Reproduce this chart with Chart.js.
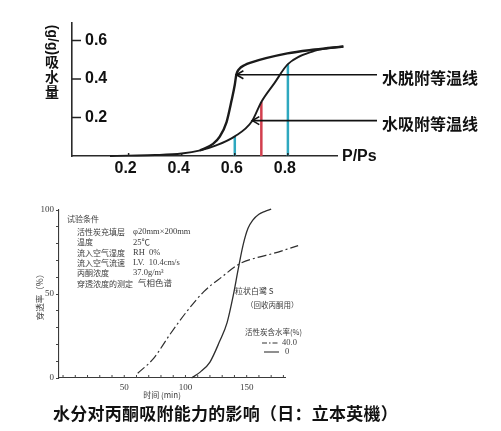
<!DOCTYPE html>
<html>
<head>
<meta charset="utf-8">
<script src="https://cdn.jsdelivr.net/npm/chart.js@4/dist/chart.umd.min.js"></script>
<style>
  html, body { margin: 0; padding: 0; background: #fff; }
  body { width: 501px; height: 431px; position: relative; overflow: hidden; }
  #isotherm { position: absolute; left: 0; top: 0; width: 501px; height: 195px; }
  #breakthrough { position: absolute; left: 0; top: 195px; width: 501px; height: 236px; filter: blur(0.35px); }
  #caption { position: absolute; left: 53px; top: 401px; font: bold 17px "Noto Sans CJK SC", sans-serif;
             color: #111; white-space: nowrap; letter-spacing: 0.25px; line-height: 24px; }
</style>
</head>
<body>
<canvas id="isotherm" width="501" height="195"></canvas>
<canvas id="breakthrough" width="501" height="236"></canvas>
<div id="caption">水分对丙酮吸附能力的影响（日：立本英機）</div>

<script>
// ---------- water vapour isotherms (relative pressure P/Ps vs uptake g/g) ----------
const pressureTicks = [0.2, 0.4, 0.6, 0.8];
const uptakeTicks = [0.2, 0.4, 0.6];

const adsorptionP = [0.13, 0.20, 0.30, 0.40, 0.47, 0.53, 0.60, 0.664, 0.70, 0.75, 0.80, 0.90, 0.95, 1.009];
const adsorptionQ = [0.000, 0.002, 0.005, 0.013, 0.029, 0.055, 0.102, 0.179, 0.281, 0.380, 0.477, 0.546, 0.560, 0.569];

const desorptionP = [0.469, 0.518, 0.544, 0.569, 0.588, 0.600, 0.606, 0.616, 0.638, 0.657, 0.798, 0.902, 1.009];
const desorptionQ = [0.029, 0.063, 0.102, 0.176, 0.289, 0.370, 0.424, 0.451, 0.473, 0.484, 0.533, 0.553, 0.569];

// vertical guides from the axis up to the adsorption branch
const markerP = [0.6, 0.7, 0.8];
const markerQ = [0.102, 0.281, 0.477];
const markerColors = ['#2ea8bf', '#d23f4e', '#2ea8bf'];

// labelled arrows pointing at each branch
const arrowLabels = ['水脱附等温线', '水吸附等温线'];
const arrowP = [0.606, 0.666];
const arrowQ = [0.422, 0.184];

// ---------- acetone breakthrough (time min vs breakthrough %) ----------
const timeTicks = [0, 10, 20, 30, 40, 50, 60, 70, 80, 90, 100, 110, 120, 130, 140, 150, 160, 170, 180];
const timeLabels = [50, 100, 150];
const percentTicks = [0, 10, 20, 30, 40, 50, 60, 70, 80, 90, 100];
const percentLabels = [0, 50, 100];

const wetTime = [61, 74, 87, 101, 115, 130, 144, 158, 172, 192];
const wetPct = [2.8, 11.7, 25.6, 39.5, 51.4, 60.3, 67.9, 71.6, 74.2, 78.8];

const dryTime = [105, 112, 120, 128, 134, 139, 143, 147, 151, 155, 160, 165, 170];
const dryPct = [0, 3.5, 9.5, 22, 33, 49, 64.5, 79, 89, 94, 97.5, 99.2, 100.5];

const legendTitle = '活性炭含水率(%)';
const legendLabels = ['40.0', '0'];
const conditionRows = [
  ['活性炭充填层', 'φ20mm×200mm'],
  ['温度', '25℃'],
  ['流入空气湿度', 'RH  0%'],
  ['流入空气流速', 'LV.  10.4cm/s'],
  ['丙酮浓度', '37.0g/m³'],
  ['穿透浓度的测定', '气相色谱']
];

const pts = (xs, ys) => xs.map((x, i) => ({ x, y: ys[i] }));

function seg(ctx, x1, y1, x2, y2) {
  ctx.beginPath(); ctx.moveTo(x1, y1); ctx.lineTo(x2, y2); ctx.stroke();
}

// ---------- upper chart ----------
const isothermExtras = {
  id: 'isothermExtras',
  afterDraw(chart) {
    const { ctx, chartArea: a, scales: { x, y } } = chart;
    ctx.save();
    ctx.strokeStyle = '#222';
    ctx.lineWidth = 1.5;
    uptakeTicks.forEach(v => { const py = y.getPixelForValue(v); seg(ctx, a.left, py, a.left + 9, py); });
    pressureTicks.forEach(v => { const px = x.getPixelForValue(v); seg(ctx, px, a.bottom, px, a.bottom - 3); });

    // arrows and their labels
    const textX = 382;
    ctx.fillStyle = '#111';
    ctx.font = 'bold 16px "Noto Sans CJK SC"';
    ctx.textBaseline = 'middle';
    ctx.textAlign = 'left';
    arrowLabels.forEach((t, i) => {
      const tx = x.getPixelForValue(arrowP[i]);
      const ty = y.getPixelForValue(arrowQ[i]);
      ctx.strokeStyle = '#111';
      ctx.lineWidth = 1.6;
      seg(ctx, textX - 5, ty, tx, ty);
      ctx.beginPath();
      ctx.moveTo(tx + 7, ty - 4); ctx.lineTo(tx, ty); ctx.lineTo(tx + 7, ty + 4);
      ctx.stroke();
      ctx.fillText(t, textX, ty + 3.5);
    });

    // axis names
    ctx.font = 'bold 16px "Liberation Sans"';
    ctx.fillText('P/Ps', a.right + 5, a.bottom + 1);

    ctx.font = 'bold 14px "Noto Sans CJK SC"';
    ctx.textAlign = 'center';
    ['吸', '水', '量'].forEach((c, i) => ctx.fillText(c, 52, 62 + i * 15));
    ctx.save();
    ctx.translate(52, 40);
    ctx.rotate(Math.PI / 2);
    ctx.font = 'bold 14px "Liberation Sans"';
    ctx.fillText('(g/g)', 0, 0);
    ctx.restore();
    ctx.restore();
  }
};

const lineSet = (data, color, width, extra) => Object.assign({
  data, showLine: true, borderColor: color, borderWidth: width, pointRadius: 0,
  cubicInterpolationMode: 'monotone', clip: false
}, extra || {});

new Chart(document.getElementById('isotherm'), {
  type: 'scatter',
  data: {
    datasets: [
      lineSet(pts(desorptionP, desorptionQ), '#1b1b1b', 2.4),
      lineSet(pts(adsorptionP, adsorptionQ), '#1b1b1b', 1.9),
      ...markerP.map((p, i) => lineSet([{ x: p, y: 0 }, { x: p, y: markerQ[i] }], markerColors[i], 2.5))
    ]
  },
  options: {
    responsive: false, animation: false, devicePixelRatio: 1,
    layout: { padding: { left: 72, right: 164, top: 14, bottom: 0 } },
    plugins: { legend: { display: false }, tooltip: { enabled: false } },
    scales: {
      x: {
        type: 'linear', min: -0.0132, max: 0.985,
        afterFit(s) { s.height = 39; },
        afterBuildTicks(s) { s.ticks = pressureTicks.map(v => ({ value: v })); },
        grid: { display: false, drawTicks: false },
        border: { display: true, color: '#2a2a2a', width: 1.6 },
        ticks: { padding: 3, labelOffset: -3, color: '#111', maxRotation: 0,
                 font: { family: 'Liberation Sans', weight: 'bold', size: 16 },
                 callback: v => v.toFixed(1) }
      },
      y: {
        type: 'linear', min: 0, max: 0.693,
        afterFit(s) { s.width = 0; },
        afterBuildTicks(s) { s.ticks = uptakeTicks.map(v => ({ value: v })); },
        grid: { display: false, drawTicks: false },
        border: { display: true, color: '#2a2a2a', width: 1.6 },
        ticks: { mirror: true, padding: 13, color: '#111',
                 font: { family: 'Liberation Sans', weight: 'bold', size: 16 },
                 callback: v => v.toFixed(1) }
      }
    }
  },
  plugins: [isothermExtras]
});

// ---------- lower chart ----------
const breakthroughExtras = {
  id: 'breakthroughExtras',
  afterDraw(chart) {
    const { ctx, chartArea: a, scales: { x } } = chart;
    ctx.save();
    ctx.strokeStyle = '#444';
    ctx.lineWidth = 1;
    timeTicks.forEach(v => { const px = x.getPixelForValue(v); seg(ctx, px, a.bottom, px, a.bottom - 3); });

    ctx.fillStyle = '#3c3c3c';
    ctx.textBaseline = 'middle';
    ctx.textAlign = 'left';

    // test conditions
    ctx.font = '8px "Noto Sans CJK SC"';
    ctx.fillText('试验条件', 67, 24);
    conditionRows.forEach((r, i) => {
      const yy = 37 + i * 10.3;
      ctx.font = '8px "Noto Sans CJK SC"';
      ctx.fillText(r[0], 77, yy);
      const valueX = Math.max(133, 77 + ctx.measureText(r[0]).width + 5);
      ctx.font = '8.5px "Liberation Serif", "Noto Sans CJK SC"';
      ctx.fillText(r[1], valueX, yy);
    });

    // curve notes and legend
    ctx.font = '8px "Noto Sans CJK SC"';
    ctx.fillText('粒状白鹭 S', 235, 96);
    ctx.font = '7.5px "Noto Sans CJK SC"';
    ctx.fillText('（回收丙酮用）', 246, 110);
    ctx.font = '7.5px "Noto Sans CJK SC"';
    ctx.fillText(legendTitle, 245, 137);

    ctx.strokeStyle = '#333';
    ctx.lineWidth = 1.1;
    ctx.setLineDash([5, 2, 1.5, 2]);
    seg(ctx, 262, 148, 279, 148);
    ctx.setLineDash([]);
    seg(ctx, 264, 157, 279, 157);
    ctx.font = '8.5px "Liberation Serif"';
    ctx.fillText(legendLabels[0], 282, 148);
    ctx.fillText(legendLabels[1], 285, 157);

    // axis names
    ctx.textAlign = 'center';
    ctx.font = '8px "Noto Sans CJK SC"';
    ctx.fillText('时间 (min)', 162, 200);
    ctx.save();
    ctx.translate(40, 100);
    ctx.rotate(-Math.PI / 2);
    ctx.font = '8.5px "Noto Sans CJK SC"';
    ctx.fillText('穿透率（%）', 0, 0);
    ctx.restore();
    ctx.restore();
  }
};

new Chart(document.getElementById('breakthrough'), {
  type: 'scatter',
  data: {
    datasets: [
      lineSet(pts(dryTime, dryPct), '#2e2e2e', 1.3),
      lineSet(pts(wetTime, wetPct), '#2e2e2e', 1.2, { borderDash: [9, 3, 2, 3] })
    ]
  },
  options: {
    responsive: false, animation: false, devicePixelRatio: 1,
    layout: { padding: { left: 39, right: 216, top: 15, bottom: 0 } },
    plugins: { legend: { display: false }, tooltip: { enabled: false } },
    scales: {
      x: {
        type: 'linear', min: -3.3, max: 181.3,
        afterFit(s) { s.height = 53; },
        afterBuildTicks(s) { s.ticks = timeTicks.map(v => ({ value: v })); },
        grid: { display: false, drawTicks: false },
        border: { display: true, color: '#3a3a3a', width: 1.1 },
        ticks: { padding: 4, color: '#3c3c3c', maxRotation: 0, autoSkip: false,
                 font: { family: 'Liberation Serif', size: 9 },
                 callback: v => timeLabels.includes(v) ? String(v) : '' }
      },
      y: {
        type: 'linear', min: 0, max: 100,
        afterFit(s) { s.width = 20; },
        afterBuildTicks(s) { s.ticks = percentTicks.map(v => ({ value: v })); },
        grid: { display: true, drawOnChartArea: false, drawTicks: true, tickLength: 3, color: '#444', lineWidth: 1 },
        border: { display: true, color: '#3a3a3a', width: 1.1 },
        ticks: { padding: 2, color: '#3c3c3c', autoSkip: false,
                 font: { family: 'Liberation Serif', size: 9 },
                 callback: v => percentLabels.includes(v) ? String(v) : '' }
      }
    }
  },
  plugins: [breakthroughExtras]
});
</script>
</body>
</html>
